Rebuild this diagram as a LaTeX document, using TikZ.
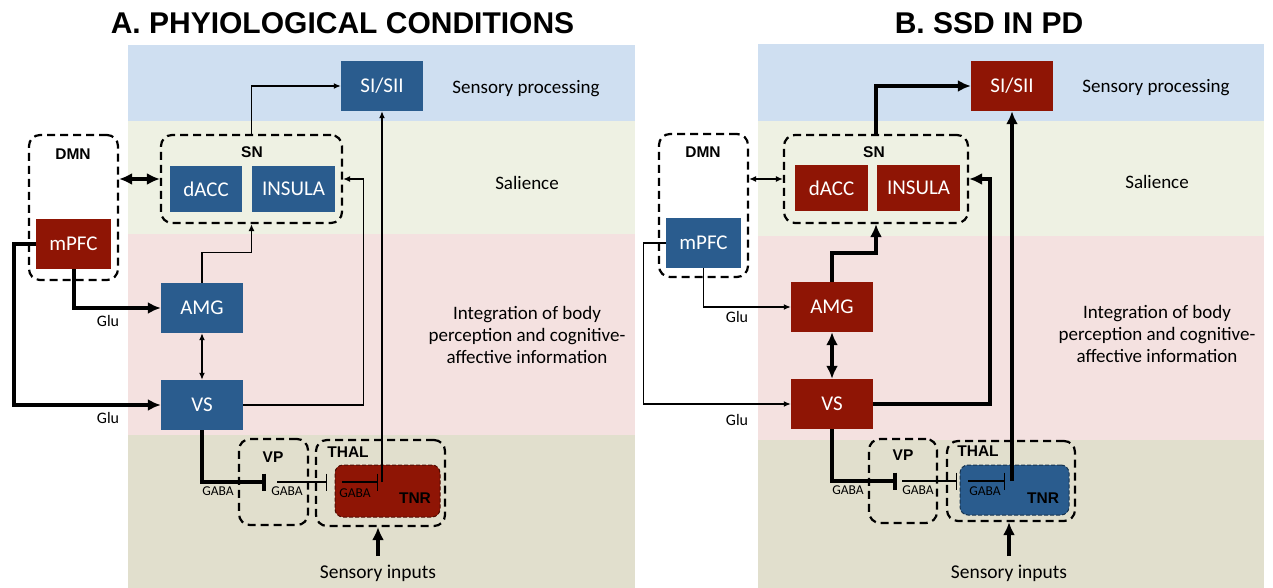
\documentclass[tikz,border=0pt]{standalone}
\usepackage{fontspec}
\setmainfont{Carlito}
\newfontfamily\headfont{Liberation Sans}
\usetikzlibrary{arrows.meta}

\definecolor{boxblue}{RGB}{42,92,142}
\definecolor{boxred}{RGB}{143,21,5}
\definecolor{bandblue}{RGB}{207,223,241}
\definecolor{bandgreen}{RGB}{238,241,227}
\definecolor{bandpink}{RGB}{244,225,224}
\definecolor{bandtan}{RGB}{225,223,205}

\tikzset{
  box/.style={inner sep=0pt, text=white, font=\fontsize{21}{24}\selectfont,
    minimum width=82pt, minimum height=50pt},
  bluebox/.style={box, fill=boxblue},
  redbox/.style={box, fill=boxred},
  group/.style={draw, line width=2.2pt, dash pattern=on 8pt off 5pt,
    rounded corners=11pt, inner sep=0pt},
  grouptag/.style={font=\headfont\bfseries\fontsize{15.5}{18}\selectfont},
  nucleus/.style={draw, line width=1pt, dash pattern=on 4pt off 2pt,
    rounded corners=8pt, inner sep=0pt},
  weak/.style={line width=1.3pt, >={Latex[length=7pt,width=6pt]}},
  strong/.style={line width=4pt, >={Latex[length=13pt,width=12pt]}},
  inhibit/.style={-{Bar[width=17pt]}},
  glu/.style={font=\fontsize{16}{18}\selectfont},
  gaba/.style={font=\fontsize{13.5}{15}\selectfont},
  stage/.style={font=\fontsize{19}{22}\selectfont, align=center},
  title/.style={font=\headfont\bfseries\fontsize{30}{34}\selectfont},
}

\begin{document}
\begin{tikzpicture}[x=1pt,y=-1pt]
  \useasboundingbox (0,0) rectangle (1273,588);

  % bands
  \fill[bandblue] (128,45) rectangle (635,121);
  \fill[bandgreen] (128,121) rectangle (635,234);
  \fill[bandpink] (128,234) rectangle (635,435);
  \fill[bandtan] (128,435) rectangle (635,588);
  \fill[bandblue] (758,44) rectangle (1264,121);
  \fill[bandgreen] (758,121) rectangle (1264,236);
  \fill[bandpink] (758,236) rectangle (1264,440);
  \fill[bandtan] (758,440) rectangle (1264,588);

  \node[title] (titleA) at (342.5,23) {A. PHYIOLOGICAL CONDITIONS};
  \node[title] (titleB) at (989,23) {B. SSD IN PD};

  % ---- panel A ----
  \node[stage] (procA) at (526,89) {Sensory processing};
  \node[stage] (salA) at (527,183) {Salience};
  \node[stage] (integA) at (527,335) {Integration of body\\perception and cognitive-\\affective information};

  \node[group, minimum width=181pt, minimum height=88pt] (snA) at (251.5,179) {};
  \node[group, minimum width=89pt, minimum height=145pt] (dmnA) at (73.5,207.5) {};
  \node[group, minimum width=69pt, minimum height=86pt] (vpA) at (273.5,482) {};
  \node[group, minimum width=129pt, minimum height=86pt] (thalA) at (380.5,483) {};
  \node[grouptag] (snlblA) at (252,152) {SN};
  \node[grouptag] (dmnlblA) at (73,154) {DMN};
  \node[grouptag] (vplblA) at (273,457) {VP};
  \node[grouptag] (thallblA) at (348,452) {THAL};

  \node[bluebox] (siA) at (382,86) {SI/SII};
  \node[bluebox, minimum width=72pt, minimum height=46pt] (daccA) at (206,189) {dACC};
  \node[bluebox, minimum width=83pt, minimum height=46pt] (insA) at (293.5,189) {INSULA};
  \node[redbox, minimum width=75pt] (mpfcA) at (73.5,244) {mPFC};
  \node[bluebox] (amgA) at (202,308) {AMG};
  \node[bluebox] (vsA) at (202,405) {VS};
  \node[nucleus, fill=boxred, draw=boxred!55!black, minimum width=105pt, minimum height=52pt] (tnrA) at (387.5,491) {};
  \node[grouptag] (tnrlblA) at (415,498) {TNR};

  \coordinate (vpinA) at (266,482);
  \coordinate (vpoutA) at (277,482);
  \coordinate (thalinA) at (327,482);
  \coordinate (tnrinA) at (342,482);
  \coordinate (tnrbarA) at (378,482);
  \coordinate (tnroutA) at (382,482);

  \node[glu] (gluamgA) at (108,321) {Glu};
  \node[glu] (gluvsA) at (108,418) {Glu};
  \node[gaba] (gabavsA) at (218,491) {GABA};
  \node[gaba] (gabavpA) at (287,491) {GABA};
  \node[gaba] (gabatnrA) at (355,493) {GABA};
  \node[stage, font=\fontsize{19.5}{22}\selectfont] (inputA) at (378,573) {Sensory inputs};

  \draw[weak,->] (snA.north) |- (siA.west);
  \draw[weak,->] (tnroutA) -- (siA.south);
  \draw[weak,->] (vsA.east) -- ++(120,0) |- (snA.east);
  \draw[weak,->] (amgA.north) -- ++(0,-30) -| (snA.south);
  \draw[strong,<->] (dmnA.east |- snA.west) -- (snA.west);
  \draw[strong,->] (mpfcA.south) |- (amgA.west);
  \draw[strong,->] (mpfcA.west) -- ++(-22,0) |- (vsA.west);
  \draw[weak,<->] (amgA.south) -- (vsA.north);
  \draw[strong,inhibit] (vsA.south) |- (vpinA);
  \draw[weak,inhibit] (vpoutA) -- (thalinA);
  \draw[weak,inhibit] (tnrinA) -- (tnrbarA);
  \draw[strong,->] ([yshift=5pt]inputA.north) -- (inputA.north |- thalA.south);

  % ---- panel B ----
  \node[stage] (procB) at (1156,88) {Sensory processing};
  \node[stage] (salB) at (1157,182) {Salience};
  \node[stage] (integB) at (1157,334) {Integration of body\\perception and cognitive-\\affective information};

  \node[group, minimum width=184pt, minimum height=88pt] (snB) at (876,179) {};
  \node[group, minimum width=89pt, minimum height=143pt] (dmnB) at (703.5,205.5) {};
  \node[group, minimum width=68pt, minimum height=84pt] (vpB) at (903,481) {};
  \node[group, minimum width=128pt, minimum height=80pt] (thalB) at (1011,481) {};
  \node[grouptag] (snlblB) at (874,152) {SN};
  \node[grouptag] (dmnlblB) at (703,152) {DMN};
  \node[grouptag] (vplblB) at (903,455) {VP};
  \node[grouptag] (thallblB) at (978,451) {THAL};

  \node[redbox] (siB) at (1012,86) {SI/SII};
  \node[redbox, minimum width=73pt, minimum height=46pt] (daccB) at (831.5,188) {dACC};
  \node[redbox, minimum width=83pt, minimum height=46pt] (insB) at (918.5,188) {INSULA};
  \node[bluebox, minimum width=75pt] (mpfcB) at (703.5,243) {mPFC};
  \node[redbox] (amgB) at (832,307) {AMG};
  \node[redbox] (vsB) at (832,404) {VS};
  \node[nucleus, fill=boxblue, draw=boxblue!55!black, minimum width=109pt, minimum height=50pt] (tnrB) at (1014.5,490) {};
  \node[grouptag] (tnrlblB) at (1043,498) {TNR};

  \coordinate (vpinB) at (897,481);
  \coordinate (vpoutB) at (902,481);
  \coordinate (thalinB) at (957,481);
  \coordinate (tnrinB) at (968,481);
  \coordinate (tnrbarB) at (1005,481);
  \coordinate (tnroutB) at (1012,481);

  \node[glu] (gluamgB) at (737,317) {Glu};
  \node[glu] (gluvsB) at (737,420) {Glu};
  \node[gaba] (gabavsB) at (848,490) {GABA};
  \node[gaba] (gabavpB) at (918,490) {GABA};
  \node[gaba] (gabatnrB) at (985,491) {GABA};
  \node[stage, font=\fontsize{19.5}{22}\selectfont] (inputB) at (1009,573) {Sensory inputs};

  \draw[strong,->] (snB.north) |- (siB.west);
  \draw[strong,->] (tnroutB) -- (siB.south);
  \draw[strong,->] (vsB.east) -- ++(117,0) |- (snB.east);
  \draw[strong,->] (amgB.north) -- ++(0,-29) -| (snB.south);
  \draw[weak,<->] (dmnB.east |- snB.west) -- (snB.west);
  \draw[weak,->] (mpfcB.south) |- (amgB.west);
  \draw[weak,->] (mpfcB.west) -- ++(-22,0) |- (vsB.west);
  \draw[strong,<->] (amgB.south) -- (vsB.north);
  \draw[strong,inhibit] (vsB.south) |- (vpinB);
  \draw[weak,inhibit] (vpoutB) -- (thalinB);
  \draw[weak,inhibit] (tnrinB) -- (tnrbarB);
  \draw[strong,->] ([yshift=5pt]inputB.north) -- (inputB.north |- thalB.south);
\end{tikzpicture}
\end{document}
